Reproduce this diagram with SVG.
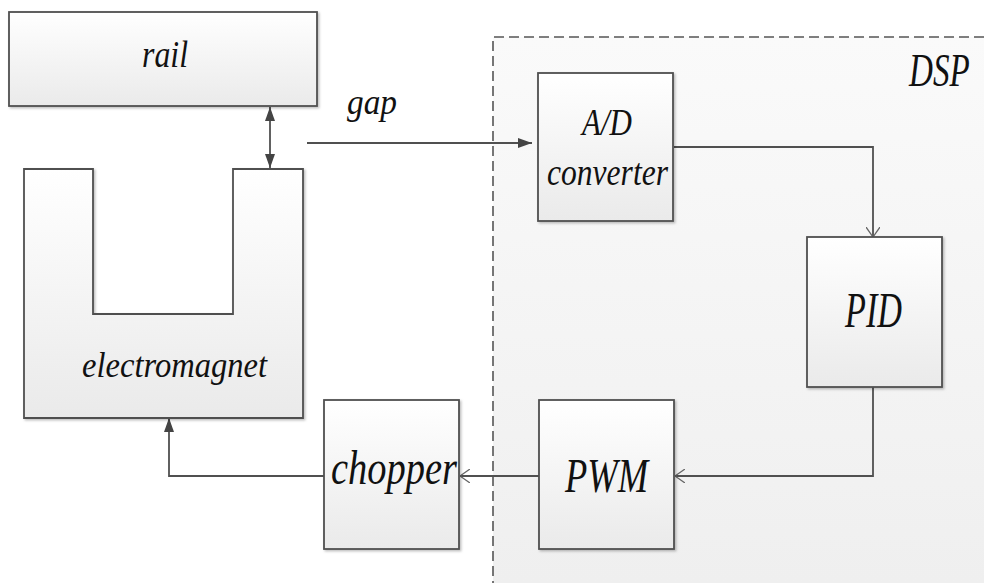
<svg xmlns="http://www.w3.org/2000/svg" width="984" height="583" viewBox="0 0 984 583">
  <defs>
    <linearGradient id="boxFill" x1="0" y1="0" x2="0" y2="1">
      <stop offset="0" stop-color="#ffffff"/>
      <stop offset="1" stop-color="#eaeaea"/>
    </linearGradient>
    <linearGradient id="dspFill" x1="0" y1="0" x2="0" y2="1">
      <stop offset="0" stop-color="#fafafa"/>
      <stop offset="1" stop-color="#efefef"/>
    </linearGradient>
    <filter id="shadow" x="-10%" y="-10%" width="130%" height="130%">
      <feDropShadow dx="1.5" dy="1.5" stdDeviation="1" flood-color="#000" flood-opacity="0.25"/>
    </filter>
    <marker id="solid" viewBox="0 0 14 10" refX="14" refY="5" markerWidth="14" markerHeight="10" markerUnits="userSpaceOnUse" orient="auto-start-reverse">
      <path d="M0,0 L14,5 L0,10 Z" fill="#444"/>
    </marker>
    <marker id="open" viewBox="0 0 10 14" refX="10" refY="7" markerWidth="10" markerHeight="14" markerUnits="userSpaceOnUse" orient="auto">
      <path d="M0,0 L10,7 L0,14" fill="none" stroke="#666" stroke-width="1.3"/>
    </marker>
  </defs>
  <style>
    .box { fill: url(#boxFill); stroke: #505050; stroke-width: 1.8; filter: url(#shadow); }
    .wire { fill: none; stroke: #505050; stroke-width: 1.8; }
    .lbl { font-family: "Liberation Serif", "DejaVu Serif", serif; font-style: italic; fill: #111; text-anchor: start; }
  </style>

  <rect width="984" height="583" fill="#ffffff"/>

  <!-- DSP region: open to the right and bottom, dashed on top and left -->
  <g id="dsp">
    <rect x="493" y="37" width="491" height="546" fill="url(#dspFill)"/>
    <path d="M984,37 H493 V583" fill="none" stroke="#555" stroke-width="1.6" stroke-dasharray="10 5"/>
    <text class="lbl" transform="translate(909,86) scale(0.72,1)" x="0" y="0" font-size="46">DSP</text>
  </g>

  <!-- connectors -->
  <g id="connectors">
    <line class="wire" x1="270" y1="107" x2="270" y2="168" marker-start="url(#solid)" marker-end="url(#solid)"/>
    <line class="wire" x1="307" y1="143" x2="532" y2="143" marker-end="url(#solid)"/>
    <polyline class="wire" points="674,147 873,147 873,237" marker-end="url(#open)"/>
    <polyline class="wire" points="873,387 873,476 675,476" marker-end="url(#open)"/>
    <line class="wire" x1="539" y1="476" x2="460" y2="476" marker-end="url(#open)"/>
    <polyline class="wire" points="324,476 169,476 169,418" marker-end="url(#solid)"/>
  </g>

  <g id="rail">
    <rect class="box" x="9" y="12" width="308" height="94"/>
    <text class="lbl" x="142" y="67" font-size="38" textLength="46" lengthAdjust="spacingAndGlyphs">rail</text>
  </g>

  <g id="gap-label">
    <text class="lbl" x="347" y="114" font-size="36" textLength="50" lengthAdjust="spacingAndGlyphs">gap</text>
  </g>

  <g id="electromagnet">
    <path class="box" d="M24,169 L93,169 L93,314 L233,314 L233,169 L303,169 L303,418 L24,418 Z"/>
    <text class="lbl" x="82" y="377" font-size="36" textLength="185" lengthAdjust="spacingAndGlyphs">electromagnet</text>
  </g>

  <g id="ad-converter">
    <rect class="box" x="538" y="73" width="135" height="148"/>
    <text class="lbl" x="582" y="135" font-size="38" textLength="50" lengthAdjust="spacingAndGlyphs">A/D</text>
    <text class="lbl" x="547" y="185" font-size="38" textLength="121" lengthAdjust="spacingAndGlyphs">converter</text>
  </g>

  <g id="pid">
    <rect class="box" x="807" y="237" width="135" height="150"/>
    <text class="lbl" x="845" y="327" font-size="50" textLength="57" lengthAdjust="spacingAndGlyphs">PID</text>
  </g>

  <g id="pwm">
    <rect class="box" x="539" y="400" width="135" height="149"/>
    <text class="lbl" x="565" y="492" font-size="48" textLength="83" lengthAdjust="spacingAndGlyphs">PWM</text>
  </g>

  <g id="chopper">
    <rect class="box" x="324" y="400" width="135" height="149"/>
    <text class="lbl" x="331" y="484" font-size="48" textLength="126" lengthAdjust="spacingAndGlyphs">chopper</text>
  </g>
</svg>
